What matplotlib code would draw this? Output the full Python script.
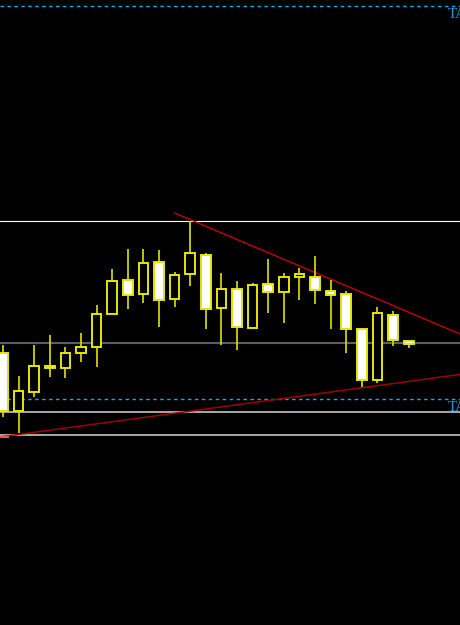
import matplotlib.pyplot as plt
import numpy as np

# candle OHLC (oldest -> newest)
opens = [1.1272, 1.1214, 1.1233, 1.1259, 1.1257, 1.1272, 1.1278, 1.1311, 1.1345,
         1.1331, 1.1363, 1.1326, 1.1351, 1.1370, 1.1317, 1.1336, 1.1297, 1.1341,
         1.1333, 1.1348, 1.1348, 1.1334, 1.1331, 1.1296, 1.1245, 1.1310, 1.1284]
highs = [1.1280, 1.1249, 1.1280, 1.1290, 1.1278, 1.1292, 1.1320, 1.1356, 1.1376,
         1.1376, 1.1375, 1.1353, 1.1404, 1.1372, 1.1352, 1.1344, 1.1342, 1.1366,
         1.1352, 1.1357, 1.1369, 1.1345, 1.1334, 1.1297, 1.1318, 1.1314, 1.1284]
lows = [1.1208, 1.1192, 1.1228, 1.1248, 1.1247, 1.1263, 1.1258, 1.1311, 1.1316,
        1.1322, 1.1298, 1.1318, 1.1339, 1.1296, 1.1280, 1.1275, 1.1296, 1.1312,
        1.1302, 1.1325, 1.1321, 1.1296, 1.1272, 1.1238, 1.1242, 1.1279, 1.1277]
closes = [1.1214, 1.1234, 1.1259, 1.1257, 1.1272, 1.1278, 1.1311, 1.1344, 1.1330,
          1.1362, 1.1325, 1.1350, 1.1372, 1.1316, 1.1336, 1.1298, 1.1340, 1.1333,
          1.1348, 1.1351, 1.1335, 1.1330, 1.1296, 1.1245, 1.1312, 1.1285, 1.1281]

# horizontal levels
target_levels = [1.1619, 1.1226]          # cyan dashed, labelled
white_level = 1.1404
gray_level = 1.1282
support_levels = [1.1213, 1.1190]

# trend lines: (bar index, price) anchors
upper_trend = [(11.0, 1.1412), (26.0, 1.13128)]
lower_trend = [(0.0, 1.11884), (23.0, 1.12372)]

opens, highs, lows, closes = map(np.array, (opens, highs, lows, closes))
idx = np.arange(len(opens))

fig = plt.figure(figsize=(4.6001, 6.2501), dpi=100, facecolor="black")
ax = fig.add_axes([0, 0, 1, 1], facecolor="black")
ax.set_xlim(-0.192, 29.29)
ax.set_ylim(1.1000, 1.1625)
ax.axis("off")

# levels
for lvl in target_levels:
    ax.axhline(lvl, color="#00b0f0", lw=1.0, ls=(0, (2.5, 2.5)), zorder=1)
    # label runs off the right edge, as in the terminal screenshot
    ax.text(28.5, lvl - 0.00018, "TA", color="#1c9ad6", fontsize=11,
            family="Liberation Serif", va="top", ha="left", zorder=5)
ax.axhline(white_level, color="white", lw=0.8, zorder=1)
ax.axhline(gray_level, color="#5a6068", lw=1.5, zorder=1)
for lvl in support_levels:
    ax.axhline(lvl, color="#c4c4c4", lw=1.2, zorder=1)

# trend lines
x_left, x_right = ax.get_xlim()
(x0, y0), (x1, y1) = upper_trend
k = (y1 - y0) / (x1 - x0)
ax.plot([x0, x_right], [y0, y0 + k * (x_right - x0)], color="#c80000", lw=1.0, zorder=2)
(x0, y0), (x1, y1) = lower_trend
k = (y1 - y0) / (x1 - x0)
ax.plot([x_left, x_right], [y0 + k * (x_left - x0), y0 + k * (x_right - x0)],
        color="#a00000", lw=1.1, zorder=2)
ax.plot([x_left, 0.3], [y0 + k * (x_left - x0)] * 2, color="#ff5050", lw=1.4, zorder=2)

# candles
yellow = "#e6e600"
ax.vlines(idx, lows, highs, color="#d0d000", lw=1.3, zorder=3)
bull = closes >= opens
bottoms = np.minimum(opens, closes)
heights = np.abs(closes - opens)
ax.bar(idx, heights, bottom=bottoms, width=0.62,
       color=np.where(bull, "black", "white"), edgecolor=yellow, linewidth=1.4,
       zorder=4)

fig.savefig("out.png", dpi=100, facecolor="black")
